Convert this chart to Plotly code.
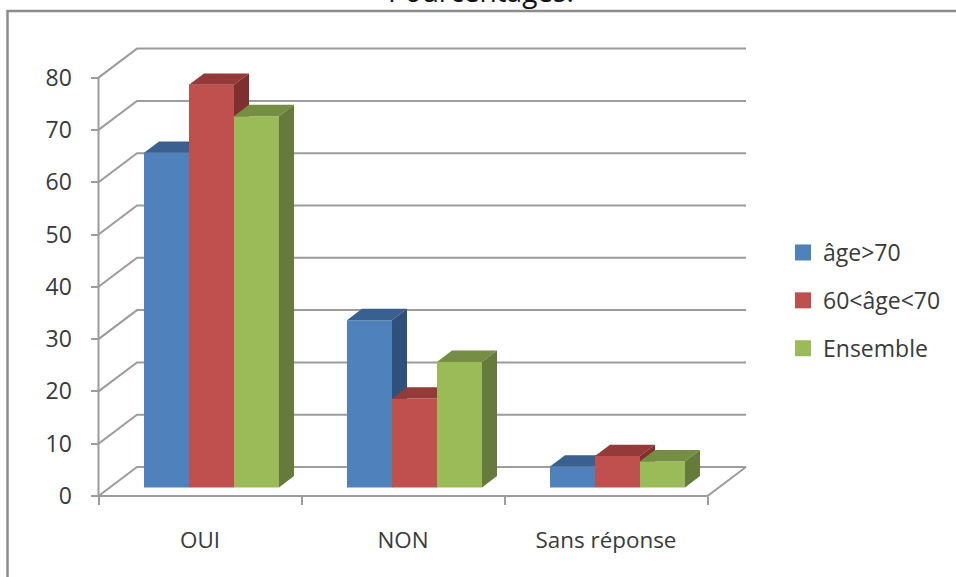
import plotly.graph_objects as go

categories = ["OUI", "NON", "Sans réponse"]
series_names = ["âge>70", "60<âge<70", "Ensemble"]
age_over_70 = [64, 32, 4]
age_60_70 = [77, 17, 6]
ensemble = [71, 24, 5]
y_ticks = [0, 10, 20, 30, 40, 50, 60, 70, 80]

series_values = [age_over_70, age_60_70, ensemble]
front_colors = ["#4F81BD", "#C0504D", "#9BBB59"]
top_colors = ["#3A6090", "#943A38", "#758E44"]
side_colors = ["#30507C", "#7F302E", "#667A3C"]
GRID = "#9C9C9C"
TEXT = "#3A3A3A"
FONT = "Open Sans"

W, H = 956, 577
PX_X = 203.0      # pixels per category
PX_Y = 5.23       # pixels per value unit
X0, Y0 = 98.5, 496.0   # pixel of the origin

wall_dx, wall_dy = 38.5 / PX_X, 29 / PX_Y
bar_dx, bar_dy = 15 / PX_X, 11.4 / PX_Y
bar_w = 45 / PX_X
bar_start = 45.5 / PX_X
bar_base = 8.5 / PX_Y

fig = go.Figure()

# Walls and gridlines
gx, gy = [], []
for v in y_ticks:
    gx += [0, wall_dx, 3 + wall_dx, None]
    gy += [v, v + wall_dy, v + wall_dy, None]
gx += [0, 0, None, 0, 3, 3 + wall_dx]
gy += [0, y_ticks[-1], None, 0, 0, wall_dy]
fig.add_trace(go.Scatter(x=gx, y=gy, mode="lines", line=dict(color=GRID, width=2),
                         showlegend=False, hoverinfo="skip", zorder=0))

# Bars: a front (bar trace) with a top and a side polygon derived from each value
for j, vals in enumerate(series_values):
    xs = [i + bar_start + bar_w * (j + 0.5) for i in range(len(vals))]
    fig.add_trace(go.Bar(x=xs, y=vals, base=[bar_base] * len(vals), width=bar_w,
                         marker=dict(color=front_colors[j], line=dict(width=0)),
                         name=series_names[j], showlegend=False, zorder=j + 1))
    tx, ty, sx, sy = [], [], [], []
    for x, v in zip(xs, vals):
        l, r = x - bar_w / 2, x + bar_w / 2
        t = bar_base + v
        tx += [l, r, r + bar_dx, l + bar_dx, l, None]
        ty += [t, t, t + bar_dy, t + bar_dy, t, None]
        sx += [r, r + bar_dx, r + bar_dx, r, r, None]
        sy += [bar_base, bar_base + bar_dy, t + bar_dy, t, bar_base, None]
    fig.add_trace(go.Scatter(x=tx, y=ty, mode="lines", fill="toself", fillcolor=top_colors[j],
                             line=dict(width=0, color=top_colors[j]),
                             showlegend=False, hoverinfo="skip", zorder=j + 1))
    fig.add_trace(go.Scatter(x=sx, y=sy, mode="lines", fill="toself", fillcolor=side_colors[j],
                             line=dict(width=0, color=side_colors[j]),
                             showlegend=False, hoverinfo="skip", zorder=j + 1))
    # Legend entry
    fig.add_trace(go.Scatter(x=[None], y=[None], mode="markers", name=series_names[j],
                             legendgroup=series_names[j],
                             marker=dict(symbol="square", size=16, color=front_colors[j])))

fig.update_layout(
    width=W, height=H, autosize=False,
    margin=dict(l=0, r=0, t=0, b=0),
    paper_bgcolor="white", plot_bgcolor="white",
    barmode="overlay",
    font=dict(family=FONT, size=22, color=TEXT),
    xaxis=dict(range=[-X0 / PX_X, (W - X0) / PX_X], domain=[0, 1],
               anchor="free", position=(H - Y0) / H,
               showgrid=False, zeroline=False, showline=False,
               tickmode="array", tickvals=[i + 0.5 for i in range(3)], ticktext=categories,
               ticks="", ticklabelstandoff=29,
               tickfont=dict(family=FONT, size=22.4, color=TEXT),
               minor=dict(tickmode="array", tickvals=[0, 1, 2, 3], ticks="outside",
                          ticklen=8, tickwidth=2, tickcolor=GRID, showgrid=False)),
    yaxis=dict(range=[(Y0 - H) / PX_Y, Y0 / PX_Y], domain=[0, 1],
               anchor="free", position=X0 / W,
               showgrid=False, zeroline=False, showline=False,
               tickmode="array", tickvals=y_ticks, ticks="outside",
               ticklen=8, tickwidth=2, tickcolor=GRID, ticklabelstandoff=14,
               tickfont=dict(family=FONT, size=23, color=TEXT)),
    legend=dict(x=783 / W, y=1 - 231 / H, xanchor="left", yanchor="top",
                tracegroupgap=15, bgcolor="rgba(0,0,0,0)",
                font=dict(family=FONT, size=23, color=TEXT)),
    shapes=[dict(type="rect", xref="paper", yref="paper", layer="below",
                 x0=7.5 / W, x1=1.02, y0=-0.02, y1=1 - 11 / H,
                 line=dict(color="#8C8C8C", width=2.5))],
    annotations=[dict(text="Pourcentages.", xref="paper", yref="paper",
                      x=481 / W, y=1 - 12 / H, xanchor="center", yanchor="bottom",
                      showarrow=False, font=dict(family=FONT, size=28, color="#111111"))],
)

fig.write_html("out.html", config={"displayModeBar": False},
               post_script="document.body.style.margin='0';document.body.style.overflow='hidden';")
